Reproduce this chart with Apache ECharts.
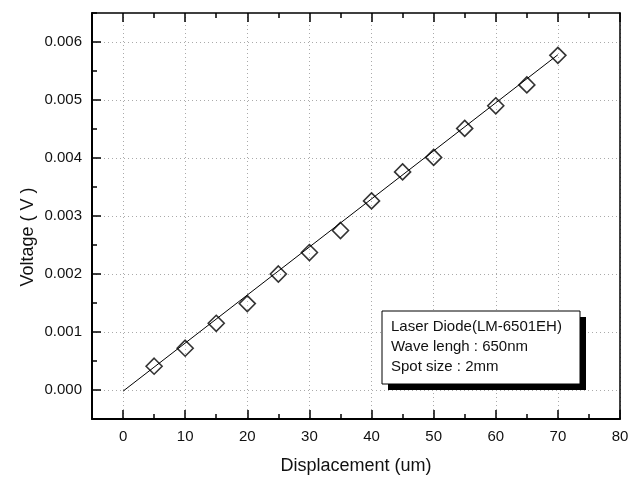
<!DOCTYPE html>
<html><head><meta charset="utf-8">
<script src="https://cdn.jsdelivr.net/npm/echarts@6/dist/echarts.min.js"></script>
<style>html,body{margin:0;padding:0;background:#fff}#c{width:638px;height:480px}</style>
</head><body><div id="c"></div>
<script>
const displacement = [5,10,15,20,25,30,35,40,45,50,55,60,65,70];
const voltage = [0.00041,0.00072,0.00115,0.00149,0.00200,0.00237,0.00275,0.00326,0.00376,0.00401,0.00451,0.00490,0.00526,0.00577];
const fitX = [0,70];
const fitY = [-0.00002,0.00578];
const xTicks = [0,10,20,30,40,50,60,70,80];
const yTicks = [0,0.001,0.002,0.003,0.004,0.005,0.006];
const legendLines = ['Laser Diode(LM-6501EH)','Wave lengh : 650nm','Spot size : 2mm'];
const xTitle = 'Displacement (um)';
const yTitle = 'Voltage ( V )';

const FONT = "'Liberation Sans', Arial, sans-serif";
const X_MIN = -5, X_MAX = 80, Y_MIN = -0.0005, Y_MAX = 0.0065;

const chart = echarts.init(document.getElementById('c'), null, {renderer: 'canvas'});

const hidden = {show: false};
function xAxisBase(extra) {
  return Object.assign({type: 'value', min: X_MIN, max: X_MAX, axisLabel: hidden, splitLine: hidden,
    axisLine: {show: false, onZero: false}}, extra);
}
function yAxisBase(extra) {
  return Object.assign({type: 'value', min: Y_MIN, max: Y_MAX, axisLabel: hidden, splitLine: hidden,
    axisLine: {show: false, onZero: false}}, extra);
}

const option = {
  animation: false,
  backgroundColor: '#fff',
  grid: {left: 92, right: 18, top: 13, bottom: 57, containLabel: false},
  xAxis: [
    xAxisBase({position: 'bottom',
      name: xTitle, nameLocation: 'middle', nameGap: 38,
      nameTextStyle: {fontFamily: FONT, fontSize: 18, color: '#111'},
      axisLine: {show: true, onZero: false, lineStyle: {color: '#000', width: 2}},
      axisTick: {show: true, inside: true, length: 9, customValues: xTicks, lineStyle: {color: '#000', width: 1.5}},
      axisLabel: {show: true, customValues: xTicks, margin: 10, fontFamily: FONT, fontSize: 15, color: '#111'},
      splitLine: {show: true, lineStyle: {color: '#aaa', type: [1, 3], width: 1}}
    }),
    xAxisBase({position: 'bottom', interval: 5,
      axisTick: {show: true, inside: true, length: 5, lineStyle: {color: '#000', width: 1.5}}}),
    xAxisBase({position: 'top',
      axisLine: {show: true, onZero: false, lineStyle: {color: '#000', width: 1.5}},
      axisTick: {show: true, inside: true, length: 9, customValues: xTicks, lineStyle: {color: '#000', width: 1.5}}}),
    xAxisBase({position: 'top', interval: 5,
      axisTick: {show: true, inside: true, length: 5, lineStyle: {color: '#000', width: 1.5}}})
  ],
  yAxis: [
    yAxisBase({position: 'left',
      axisLine: {show: true, onZero: false, lineStyle: {color: '#000', width: 2}},
      axisTick: {show: true, inside: true, length: 9, customValues: yTicks, lineStyle: {color: '#000', width: 1.5}},
      axisLabel: {show: true, customValues: yTicks, margin: 10, fontFamily: FONT, fontSize: 15, color: '#111',
        formatter: v => v.toFixed(3)},
      splitLine: {show: true, lineStyle: {color: '#aaa', type: [1, 3], width: 1}}
    }),
    yAxisBase({position: 'left', interval: 0.0005,
      axisTick: {show: true, inside: true, length: 5, lineStyle: {color: '#000', width: 1.5}}}),
    yAxisBase({position: 'right',
      axisLine: {show: true, onZero: false, lineStyle: {color: '#000', width: 1.5}},
      axisTick: {show: false}})
  ],
  series: [
    {
      type: 'line', xAxisIndex: 0, yAxisIndex: 0,
      data: fitX.map((x, i) => [x, fitY[i]]),
      showSymbol: false, symbol: 'none',
      lineStyle: {color: '#000', width: 1}, z: 2
    },
    {
      type: 'scatter', xAxisIndex: 0, yAxisIndex: 0,
      data: displacement.map((x, i) => [x, voltage[i]]),
      symbol: 'diamond', symbolSize: 16,
      itemStyle: {color: 'rgba(0,0,0,0)', borderColor: '#000', borderWidth: 1.6}, z: 3
    }
  ],
  graphic: [
    {type: 'text', x: 28, y: 237, rotation: Math.PI / 2,
      style: {text: yTitle, font: '18px ' + FONT, fill: '#111', align: 'center', verticalAlign: 'middle'}},
    {type: 'rect', shape: {x: 388, y: 317, width: 198, height: 73}, style: {fill: '#000'}, z: 10},
    {type: 'rect', shape: {x: 382, y: 311, width: 198, height: 73}, style: {fill: '#fff', stroke: '#000', lineWidth: 1}, z: 11},
    ...legendLines.map((t, i) => ({
      type: 'text', z: 12,
      style: {x: 391, y: 327 + i * 20, text: t, font: '15px ' + FONT, fill: '#111', verticalAlign: 'middle'}
    }))
  ]
};
chart.setOption(option);
</script>
</body></html>
